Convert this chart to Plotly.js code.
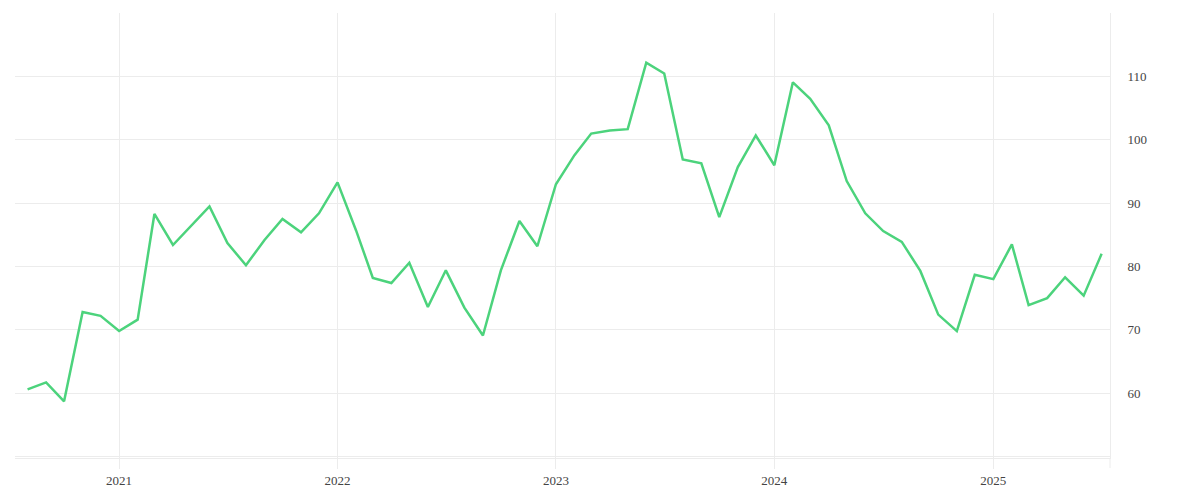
<!DOCTYPE html>
<html>
<head>
<meta charset="utf-8">
<script src="https://cdn.plot.ly/plotly-3.0.1.min.js"></script>
<style>html,body{margin:0;padding:0;background:#fff;}#chart{width:1200px;height:500px;}</style>
</head>
<body>
<div id="chart"></div>
<script>
const months = [
  "2020-08-01","2020-09-01","2020-10-01","2020-11-01","2020-12-01",
  "2021-01-01","2021-02-01","2021-03-01","2021-04-01","2021-05-01","2021-06-01","2021-07-01","2021-08-01","2021-09-01","2021-10-01","2021-11-01","2021-12-01",
  "2022-01-01","2022-02-01","2022-03-01","2022-04-01","2022-05-01","2022-06-01","2022-07-01","2022-08-01","2022-09-01","2022-10-01","2022-11-01","2022-12-01",
  "2023-01-01","2023-02-01","2023-03-01","2023-04-01","2023-05-01","2023-06-01","2023-07-01","2023-08-01","2023-09-01","2023-10-01","2023-11-01","2023-12-01",
  "2024-01-01","2024-02-01","2024-03-01","2024-04-01","2024-05-01","2024-06-01","2024-07-01","2024-08-01","2024-09-01","2024-10-01","2024-11-01","2024-12-01",
  "2025-01-01","2025-02-01","2025-03-01","2025-04-01","2025-05-01","2025-06-01","2025-07-01"
];
const values = [
  60.6, 61.7, 58.7, 72.8, 72.2,
  69.8, 71.6, 88.3, 83.4, 86.4, 89.5, 83.7, 80.2, 84.2, 87.5, 85.4, 88.4,
  93.3, 85.7, 78.2, 77.4, 80.6, 73.6, 79.4, 73.5, 69.1, 79.4, 87.2, 83.2,
  93.0, 97.6, 101.0, 101.5, 101.7, 112.2, 110.5, 96.9, 96.3, 87.8, 95.7, 100.7,
  96.0, 109.1, 106.5, 102.3, 93.5, 88.4, 85.6, 83.9, 79.3, 72.4, 69.8, 78.7,
  78.0, 83.5, 73.9, 75.0, 78.3, 75.4, 82.0
];
const yTicks = [50, 60, 70, 80, 90, 100, 110, 120];
const yTickLabels = ["", "60", "70", "80", "90", "100", "110", ""];
const xTicks = ["2021-01-01","2022-01-01","2023-01-01","2024-01-01","2025-01-01"];
const xTickLabels = ["2021","2022","2023","2024","2025"];

const gridColor = "#ececec";
const fontFamily = "'Liberation Serif', 'DejaVu Serif', serif";

Plotly.newPlot("chart", [{
  x: months,
  y: values,
  type: "scatter",
  mode: "lines",
  line: {color: "#4cd37c", width: 2.5},
  hoverinfo: "x+y"
}], {
  width: 1200, height: 500,
  margin: {l: 15, r: 90, t: 13, b: 42},
  paper_bgcolor: "#ffffff",
  plot_bgcolor: "#ffffff",
  showlegend: false,
  font: {family: fontFamily, size: 13, color: "#444"},
  xaxis: {
    type: "date",
    range: ["2020-07-11", "2025-07-15"],
    tickmode: "array",
    tickvals: xTicks,
    ticktext: xTickLabels,
    showgrid: true,
    gridcolor: gridColor,
    gridwidth: 1,
    ticks: "outside",
    ticklen: 10,
    tickcolor: gridColor,
    showline: true,
    linecolor: gridColor,
    linewidth: 1,
    zeroline: false,
    tickfont: {family: fontFamily, size: 13, color: "#444"}
  },
  yaxis: {
    side: "right",
    range: [49.75, 120.05],
    tickmode: "array",
    tickvals: yTicks,
    ticktext: yTickLabels,
    showgrid: true,
    gridcolor: gridColor,
    gridwidth: 1,
    ticks: "",
    ticklabelstandoff: 14,
    showline: true,
    linecolor: gridColor,
    linewidth: 1,
    zeroline: false,
    tickfont: {family: fontFamily, size: 13, color: "#444"}
  },
  shapes: [{
    type: "line", xref: "paper", yref: "paper",
    x0: 1, x1: 1, y0: -10/445, y1: 0,
    line: {color: gridColor, width: 1}
  }]
}, {displayModeBar: false, staticPlot: true});
</script>
</body>
</html>
